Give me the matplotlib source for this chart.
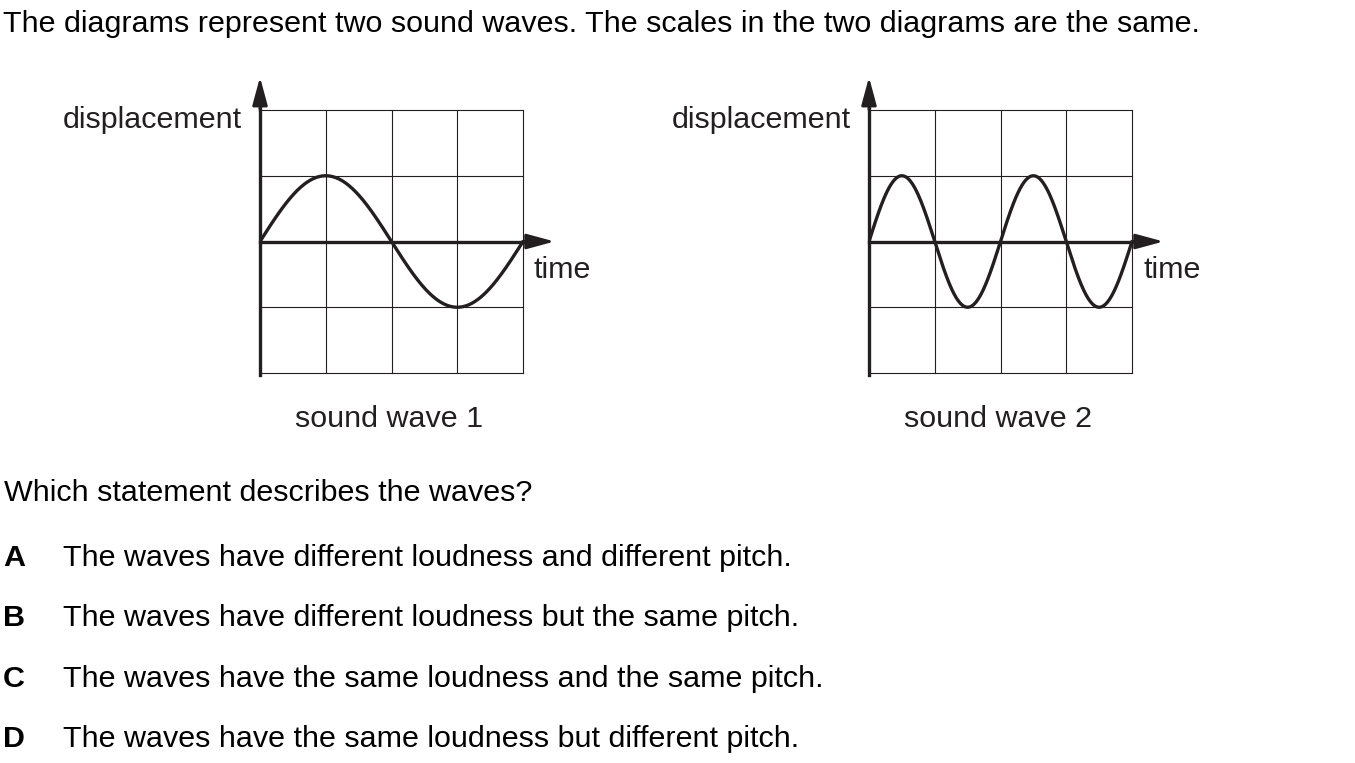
import matplotlib
import numpy as np

matplotlib.use("Agg")
import matplotlib.pyplot as plt

matplotlib.rcParams["font.family"] = ["Liberation Sans", "DejaVu Sans"]

# chart content
intro = "The diagrams represent two sound waves. The scales in the two diagrams are the same."
question = "Which statement describes the waves?"
option_letters = ["A", "B", "C", "D"]
option_texts = [
    "The waves have different loudness and different pitch.",
    "The waves have different loudness but the same pitch.",
    "The waves have the same loudness and the same pitch.",
    "The waves have the same loudness but different pitch.",
]
wave_names = ["sound wave 1", "sound wave 2"]
wave_amplitudes = [1.0, 1.0]      # in grid squares
wave_cycles = [1, 2]              # full cycles across the 4-square grid
grid_squares = 4
y_label = "displacement"
x_label = "time"

W, H = 1355, 763
INK = "#231f20"
FS = 21.95

fig = plt.figure(figsize=(W / 100, H / 100), dpi=100)


def fx(px):
    return px / W


def fy(py):
    return 1 - py / H


grid_left = [260, 869]
grid_top, grid_size = 110, 263

for i in range(2):
    ax = fig.add_axes([fx(grid_left[i]), fy(grid_top + grid_size), fx(grid_size), grid_size / H])
    ax.set_xlim(0, grid_squares)
    ax.set_ylim(-grid_squares / 2, grid_squares / 2)
    ax.axis("off")

    for k in range(grid_squares + 1):
        ax.axvline(k, color=INK, lw=0.8, zorder=1, clip_on=False)
        ax.axhline(k - grid_squares / 2, color=INK, lw=0.8, zorder=1, clip_on=False)

    t = np.linspace(0, grid_squares, 400)
    y = wave_amplitudes[i] * np.sin(2 * np.pi * wave_cycles[i] * t / grid_squares)
    ax.plot(t, y, color=INK, lw=2.4, zorder=3, solid_capstyle="round")

    # axes with arrows
    ax.plot([0, 0], [-2.03, 2.3], color=INK, lw=2.4, zorder=4, clip_on=False)
    ax.plot([0, 4.2], [0, 0], color=INK, lw=2.4, zorder=4, clip_on=False)
    arrow = dict(arrowstyle="-|>,head_length=0.85,head_width=0.23", color=INK,
                 lw=2.0, mutation_scale=20, shrinkA=0, shrinkB=0)
    ax.annotate("", xy=(4.48, 0), xytext=(4.0, 0), arrowprops=arrow,
                annotation_clip=False, zorder=5)
    ax.annotate("", xy=(0, 2.5), xytext=(0, 2.0), arrowprops=arrow,
                annotation_clip=False, zorder=5)

    gx = grid_left[i]
    fig.text(fx(gx - 197), fy(128), y_label, fontsize=FS, color=INK, va="baseline")
    fig.text(fx(gx + 274), fy(278), x_label, fontsize=FS, color=INK, va="baseline")
    fig.text(fx(gx + 129), fy(427), wave_names[i], fontsize=FS, color=INK,
             va="baseline", ha="center")

fig.text(fx(3), fy(32), intro, fontsize=FS, color="black", va="baseline")
fig.text(fx(4), fy(501), question, fontsize=FS, color="black", va="baseline")

for j, (letter, txt) in enumerate(zip(option_letters, option_texts)):
    base = 566 + j * 60.3
    fig.text(fx(3), fy(base), letter, fontsize=FS, color="black", va="baseline",
             fontweight="bold")
    fig.text(fx(63), fy(base), txt, fontsize=FS, color="black", va="baseline")

fig.savefig("out.png", dpi=100)
